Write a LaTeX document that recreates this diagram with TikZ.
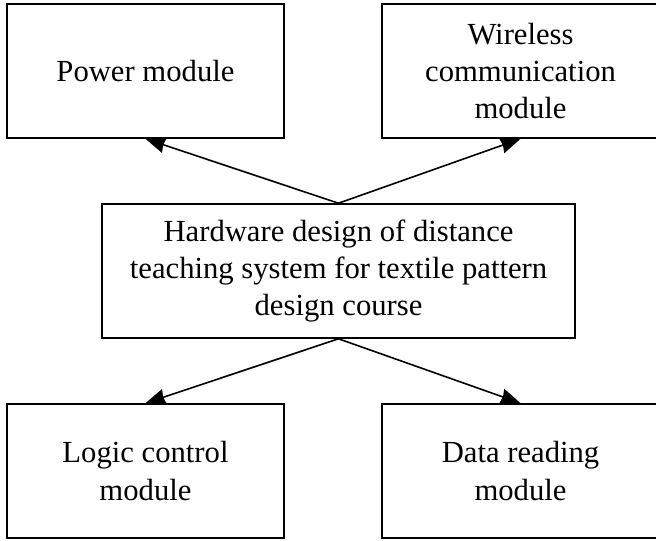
\documentclass[tikz,border=0pt]{standalone}
\usepackage{fontspec}
\setmainfont{Liberation Serif}
\usetikzlibrary{arrows.meta}
\tikzset{
  modbox/.style={draw,line width=1.2pt,minimum width=207.75pt,minimum height=100.5pt,
    align=center,inner sep=2pt,font=\fontsize{23}{28}\selectfont},
  mainbox/.style={modbox,minimum width=354.75pt},
  link/.style={line width=1.2pt,-{Stealth[length=15pt,width=12pt,inset=1pt]}}
}
\begin{document}
\begin{tikzpicture}
  \useasboundingbox (0,0) rectangle (492pt,405pt);
  % modules
  \node[modbox] (power) at (109.1pt,351.75pt) {Power module};
  \node[modbox] (wireless) at (390.4pt,351.75pt) {Wireless\\communication\\module};
  \node[mainbox] (hw) at (253.9pt,201.75pt)
    {Hardware design of distance\\teaching system for textile pattern\\design course};
  \node[modbox] (logic) at (109.1pt,51.75pt) {Logic control\\module};
  \node[modbox] (data) at (390.4pt,51.75pt) {Data reading\\module};
  % links
  \draw[link] (hw.north) -- (power.south);
  \draw[link] (hw.north) -- (wireless.south);
  \draw[link] (hw.south) -- (logic.north);
  \draw[link] (hw.south) -- (data.north);
\end{tikzpicture}
\end{document}
